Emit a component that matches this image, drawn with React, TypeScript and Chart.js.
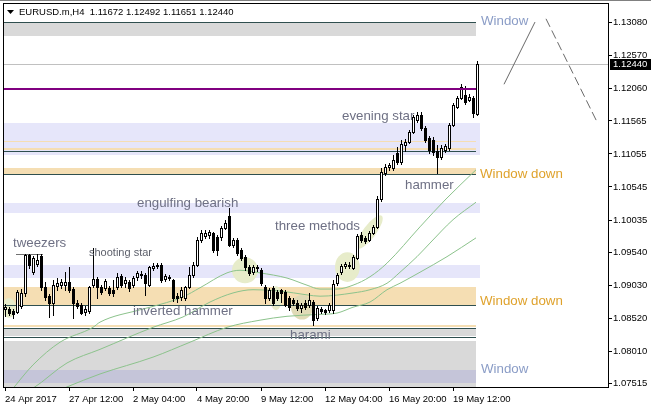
import React, { useEffect, useRef } from 'react';
import { Chart, registerables } from 'chart.js';

Chart.register(...registerables);

// ---------- data ----------
const SYMBOL = 'EURUSD.m,H4';

const OPEN = [
  1.0866, 1.0866, 1.0863, 1.0862, 1.0871, 1.0891, 1.0950, 1.0923, 1.0936, 1.0948,
  1.0900, 1.0886, 1.0875, 1.0902, 1.0903, 1.0903, 1.0908, 1.0897, 1.0875, 1.0872,
  1.0862, 1.0863, 1.0903, 1.0913, 1.0900, 1.0899, 1.0899, 1.0896, 1.0900, 1.0917,
  1.0906, 1.0908, 1.0903, 1.0916, 1.0920, 1.0919, 1.0903, 1.0930, 1.0933, 1.0934,
  1.0913, 1.0916, 1.0911, 1.0886, 1.0885, 1.0883, 1.0900, 1.0919, 1.0934, 1.0973,
  1.0979, 1.0980, 1.0983, 1.0977, 1.0977, 1.0991, 1.1010, 1.0965, 1.0973, 1.0957,
  1.0947, 1.0931, 1.0923, 1.0931, 1.0926, 1.0900, 1.0883, 1.0899, 1.0892, 1.0896,
  1.0892, 1.0883, 1.0880, 1.0875, 1.0868, 1.0875, 1.0872, 1.0877, 1.0852, 1.0866,
  1.0865, 1.0865, 1.0865, 1.0906, 1.0923, 1.0933, 1.0934, 1.0930, 1.0945, 1.0980,
  1.0976, 1.0973, 1.0983, 1.0993, 1.1036, 1.1076, 1.1085, 1.1084, 1.1107, 1.1093,
  1.1119, 1.1124, 1.1139, 1.1158, 1.1166, 1.1145, 1.1130, 1.1127, 1.1110, 1.1101,
  1.1112, 1.1115, 1.1150, 1.1178, 1.1192, 1.1196, 1.1189, 1.1192, 1.11672,
];
const HIGH = [
  1.0874, 1.0869, 1.0866, 1.0896, 1.0897, 1.0951, 1.0951, 1.0948, 1.0951, 1.0951,
  1.0908, 1.0889, 1.0911, 1.0914, 1.0913, 1.0923, 1.0931, 1.0900, 1.0880, 1.0875,
  1.0871, 1.0902, 1.0960, 1.0916, 1.0903, 1.0913, 1.0902, 1.0911, 1.0922, 1.0920,
  1.0916, 1.0911, 1.0917, 1.0925, 1.0925, 1.0922, 1.0933, 1.0937, 1.0937, 1.0937,
  1.0920, 1.0919, 1.0913, 1.0891, 1.0900, 1.0902, 1.0931, 1.0939, 1.0977, 1.0988,
  1.0988, 1.0988, 1.0985, 1.0980, 1.0994, 1.1004, 1.1022, 1.0976, 1.0976, 1.0960,
  1.0950, 1.0934, 1.0934, 1.0934, 1.0930, 1.0903, 1.0899, 1.0902, 1.0896, 1.0897,
  1.0896, 1.0886, 1.0883, 1.0880, 1.0875, 1.0880, 1.0891, 1.0880, 1.0871, 1.0869,
  1.0866, 1.0875, 1.0911, 1.0922, 1.0936, 1.0939, 1.0939, 1.0950, 1.0982, 1.0985,
  1.0979, 1.0987, 1.0996, 1.1040, 1.1084, 1.1090, 1.1091, 1.1104, 1.1116, 1.1127,
  1.1129, 1.1142, 1.1166, 1.1170, 1.1170, 1.1149, 1.1133, 1.1132, 1.1119, 1.1119,
  1.1121, 1.1153, 1.1184, 1.1195, 1.1213, 1.1210, 1.1198, 1.1195, 1.12492,
];
const LOW = [
  1.0855, 1.0857, 1.0852, 1.0860, 1.0868, 1.0886, 1.0930, 1.0920, 1.0933, 1.0896,
  1.0880, 1.0854, 1.0857, 1.0896, 1.0899, 1.0896, 1.0892, 1.0852, 1.0868, 1.0858,
  1.0857, 1.0860, 1.0900, 1.0883, 1.0889, 1.0896, 1.0888, 1.0886, 1.0897, 1.0900,
  1.0900, 1.0894, 1.0900, 1.0911, 1.0914, 1.0888, 1.0902, 1.0926, 1.0930, 1.0908,
  1.0909, 1.0911, 1.0879, 1.0877, 1.0880, 1.0880, 1.0899, 1.0916, 1.0933, 1.0970,
  1.0976, 1.0976, 1.0954, 1.0950, 1.0973, 1.0990, 1.0963, 1.0962, 1.0950, 1.0942,
  1.0926, 1.0919, 1.0920, 1.0925, 1.0903, 1.0875, 1.0880, 1.0872, 1.0880, 1.0877,
  1.0871, 1.0865, 1.0872, 1.0865, 1.0862, 1.0866, 1.0869, 1.0842, 1.0849, 1.0860,
  1.0858, 1.0862, 1.0860, 1.0903, 1.0920, 1.0930, 1.0930, 1.0928, 1.0943, 1.0970,
  1.0968, 1.0971, 1.0982, 1.0991, 1.1033, 1.1073, 1.1081, 1.1081, 1.1090, 1.1090,
  1.1110, 1.1122, 1.1138, 1.1155, 1.1142, 1.1124, 1.1107, 1.1104, 1.1076, 1.1098,
  1.1108, 1.1112, 1.1149, 1.1176, 1.1190, 1.1183, 1.1187, 1.1162, 1.11651,
];
const CLOSE = [
  1.0869, 1.0860, 1.0858, 1.0892, 1.0891, 1.0950, 1.0934, 1.0945, 1.0942, 1.0900,
  1.0885, 1.0875, 1.0903, 1.0906, 1.0908, 1.0908, 1.0896, 1.0875, 1.0871, 1.0860,
  1.0866, 1.0900, 1.0913, 1.0900, 1.0892, 1.0909, 1.0891, 1.0891, 1.0916, 1.0903,
  1.0911, 1.0899, 1.0914, 1.0922, 1.0919, 1.0906, 1.0931, 1.0933, 1.0934, 1.0911,
  1.0917, 1.0914, 1.0883, 1.0883, 1.0896, 1.0900, 1.0919, 1.0934, 1.0973, 1.0983,
  1.0983, 1.0985, 1.0957, 1.0957, 1.0991, 1.0999, 1.0965, 1.0973, 1.0953, 1.0945,
  1.0931, 1.0922, 1.0931, 1.0930, 1.0906, 1.0883, 1.0896, 1.0875, 1.0883, 1.0891,
  1.0872, 1.0869, 1.0875, 1.0868, 1.0872, 1.0869, 1.0880, 1.0849, 1.0868, 1.0863,
  1.0862, 1.0872, 1.0905, 1.0919, 1.0933, 1.0936, 1.0933, 1.0947, 1.0979, 1.0973,
  1.0971, 1.0983, 1.0993, 1.1036, 1.1078, 1.1085, 1.1088, 1.1096, 1.1093, 1.1121,
  1.1124, 1.1139, 1.1162, 1.1166, 1.1145, 1.1127, 1.1112, 1.1108, 1.1101, 1.1115,
  1.1118, 1.1150, 1.1181, 1.1192, 1.1209, 1.1186, 1.1193, 1.1169, 1.12440,
];

// moving averages, read at selected bars: [bar index, price]
const MA_FAST = [
  [1.25, 1.0738], [7, 1.0780], [13.75, 1.0815], [22, 1.0838], [23.75, 1.0846], [33.75, 1.0865],
  [36.25, 1.0869], [44.5, 1.0885], [48.75, 1.0899], [55.5, 1.0922], [58.75, 1.0926], [63.75, 1.0922],
  [70.5, 1.0914], [75.5, 1.0903], [78.75, 1.0897], [83, 1.0897], [87, 1.0903], [91.25, 1.0916],
  [95.5, 1.0937], [103.75, 1.0993], [110.25, 1.1036], [117.75, 1.1081],
];
const MA_MID = [
  [5, 1.0738], [7, 1.0744], [15.5, 1.0783], [23.75, 1.0804], [37, 1.0838], [44.5, 1.0854],
  [51.25, 1.0877], [57, 1.0891], [62, 1.0896], [68.75, 1.0894], [75.5, 1.0888], [78.75, 1.0886],
  [87, 1.0891], [91.25, 1.0896], [95.5, 1.0906], [98.75, 1.0923], [103, 1.0947], [106.25, 1.0968],
  [112, 1.1004], [117.75, 1.1031],
];
const MA_SLOW = [
  [12.5, 1.0738], [15.5, 1.0746], [23.75, 1.0766], [37, 1.0792], [46.25, 1.0815], [55.5, 1.0838],
  [63.75, 1.0849], [70.5, 1.0855], [78.75, 1.0858], [83, 1.0860], [87, 1.0869], [91.25, 1.0877],
  [95.5, 1.0896], [98.75, 1.0906], [103.75, 1.0923], [110.5, 1.0947], [117.75, 1.0976],
];

const X_TICK_BARS = [0, 16, 32, 48, 64, 80, 96, 112];
const X_TICK_LABELS = [
  '24 Apr 2017', '27 Apr 12:00', '2 May 04:00', '4 May 20:00',
  '9 May 12:00', '12 May 04:00', '16 May 20:00', '19 May 12:00',
];
const Y_TICKS = [
  1.07515, 1.0801, 1.0852, 1.0903, 1.0954, 1.10035, 1.10545, 1.11055, 1.11565, 1.1206, 1.1257, 1.1308,
];
const Y_MIN = 1.07459;
const Y_MAX = 1.13384;
const X_MIN = -0.5;
const X_MAX = 150.75;

// zones: [top price, bottom price, end bar]
const GRAY_ZONES = [[1.13098, 1.12875, 117.75], [1.08354, 1.08245, 117.75], [1.08168, 1.0740, 117.75]];
const LAVENDER_ZONES = [[1.11532, 1.11038, 118.75], [1.10298, 1.10143, 118.75], [1.09341, 1.09141, 118.75]];
const MIXED_ZONES = [[1.07721, 1.0752, 117.75]];
const WHEAT_ZONES = [[1.11154, 1.11123, 117.75], [1.10838, 1.10753, 117.75], [1.09002, 1.08724, 117.75], [1.08415, 1.08384, 117.75]];
const WHEAT_LINES = [[1.11254, 117.75]];
const DARK_LINES = [[1.13098, 117.75], [1.11108, 117.75], [1.10753, 117.75], [1.08724, 117.75], [1.08375, 117.75], [1.08362, 117.75], [1.08238, 117.75]];
const PURPLE_LEVEL = [1.12061, 117.75];
const TWEEZERS_LEVEL = [1.0951, 2.75, 9.5];

// highlight ellipses: [bar, price, rx bars, ry price, rotation deg]
const ELLIPSES = [
  [1, 1.0868, 1.75, 0.00154, 0],
  [60, 1.0926, 3.25, 0.0020, 0],
  [67.75, 1.0883, 1.5, 0.00185, 0],
  [85.6, 1.0931, 3.1, 0.0023, 0],
  [91.1, 1.0985, 5.1, 0.0010, -53],
];
const TAN_ELLIPSES = [[74.25, 1.0869, 2.75, 0.0019, 0]];

// forecast lines: [bar0, price0, bar1, price1]
const FORECAST_SOLID = [124.75, 1.1213, 132.5, 1.1309];
const FORECAST_DASHED = [135.25, 1.1314, 148, 1.1155];

// text objects: [text, bar, price]
const WINDOW_LABELS = [['Window', 119, 1.13106], ['Window', 119, 1.07736]];
const WINDOW_DOWN_LABELS = [['Window down', 118.75, 1.10745], ['Window down', 118.75, 1.08786]];
const PATTERN_LABELS = [
  ['tweezers', 2, 1.09681],
  ['engulfing bearish', 33, 1.10298],
  ['three methods', 67.5, 1.09943],
  ['evening star', 84.25, 1.1164],
  ['hammer', 100, 1.10576],
  ['inverted hammer', 32, 1.08631],
  ['harami', 71.25, 1.08261],
];
const SMALL_LABELS = [['shooting star', 21, 1.09526]];

const AXIS_FONT = 'Liberation Sans';

export default function App() {
  const ref = useRef<HTMLCanvasElement>(null);

  useEffect(() => {
    const canvas = ref.current;
    if (!canvas) return;

    const mt4 = {
      id: 'mt4',
      beforeDraw(chart: any) {
        const ctx = chart.ctx;
        ctx.save();
        ctx.fillStyle = '#ffffff';
        ctx.fillRect(0, 0, chart.width, chart.height);
        ctx.restore();
      },
      beforeDatasetsDraw(chart: any) {
        const { ctx, chartArea: a } = chart;
        const xs = chart.scales.x;
        const ys = chart.scales.y;
        const X = (v: number) => xs.getPixelForValue(v);
        const Y = (v: number) => Math.round(ys.getPixelForValue(v));
        ctx.save();
        ctx.beginPath();
        ctx.rect(a.left, a.top, a.right - a.left, a.bottom - a.top);
        ctx.clip();
        const band = (z: number[], color: string) => {
          const y0 = Y(z[0]);
          const y1 = Y(z[1]);
          ctx.fillStyle = color;
          ctx.fillRect(a.left, y0, Math.round(X(z[2])) - a.left, Math.max(1, y1 - y0));
        };
        GRAY_ZONES.forEach((z) => band(z, '#d9d9d9'));
        MIXED_ZONES.forEach((z) => band(z, '#c5c5d9'));
        LAVENDER_ZONES.forEach((z) => band(z, '#e6e6fa'));
        WHEAT_ZONES.forEach((z) => band(z, '#f5deb3'));
        const hline = (p: number, end: number, color: string, w: number) => {
          ctx.fillStyle = color;
          ctx.fillRect(a.left, Y(p), Math.round(X(end)) - a.left, w);
        };
        WHEAT_LINES.forEach((l) => hline(l[0], l[1], '#f5deb3', 1));
        // highlight ellipses
        const ell = (e: number[], color: string) => {
          const cx = X(e[0]);
          const cy = ys.getPixelForValue(e[1]);
          const rx = Math.abs(X(e[0] + e[2]) - cx);
          const ry = Math.abs(ys.getPixelForValue(e[1] + e[3]) - cy);
          ctx.fillStyle = color;
          ctx.beginPath();
          ctx.ellipse(cx, cy, rx, ry, (e[4] * Math.PI) / 180, 0, Math.PI * 2);
          ctx.fill();
        };
        ELLIPSES.forEach((e) => ell(e, '#e7ecca'));
        TAN_ELLIPSES.forEach((e) => ell(e, '#e0dab6'));
        DARK_LINES.forEach((l) => hline(l[0], l[1], '#2f4f4f', 1));
        // current price line
        ctx.fillStyle = '#c0c0c0';
        ctx.fillRect(a.left, Y(CLOSE[CLOSE.length - 1]), a.right - a.left, 1);
        // tweezers level
        ctx.fillStyle = '#707070';
        const tx0 = Math.round(X(TWEEZERS_LEVEL[1]));
        ctx.fillRect(tx0, Y(TWEEZERS_LEVEL[0]), Math.round(X(TWEEZERS_LEVEL[2])) - tx0, 1);
        ctx.restore();
      },
      afterDatasetsDraw(chart: any) {
        const { ctx, chartArea: a } = chart;
        const xs = chart.scales.x;
        const ys = chart.scales.y;
        const X = (v: number) => xs.getPixelForValue(v);
        const Y = (v: number) => Math.round(ys.getPixelForValue(v));
        ctx.save();
        ctx.beginPath();
        ctx.rect(a.left, a.top, a.right - a.left, a.bottom - a.top);
        ctx.clip();
        // candles
        for (let i = 0; i < OPEN.length; i++) {
          const cx = Math.round(X(i));
          const yo = Y(OPEN[i]);
          const yc = Y(CLOSE[i]);
          const yh = Y(HIGH[i]);
          const yl = Y(LOW[i]);
          ctx.fillStyle = '#000000';
          ctx.fillRect(cx, yh, 1, yl - yh + 1);
          const top = Math.min(yo, yc);
          const h = Math.abs(yo - yc) + 1;
          ctx.fillRect(cx - 1, top, 3, h);
          if (CLOSE[i] > OPEN[i] && h > 2) {
            ctx.fillStyle = '#ffffff';
            ctx.fillRect(cx, top + 1, 1, h - 2);
          }
        }
        // purple level
        ctx.fillStyle = '#800080';
        ctx.fillRect(a.left, Y(PURPLE_LEVEL[0]) - 1, Math.round(X(PURPLE_LEVEL[1])) - a.left, 2);
        // forecast lines
        ctx.strokeStyle = '#6a6a6a';
        ctx.lineWidth = 1;
        ctx.beginPath();
        ctx.moveTo(X(FORECAST_SOLID[0]), ys.getPixelForValue(FORECAST_SOLID[1]));
        ctx.lineTo(X(FORECAST_SOLID[2]), ys.getPixelForValue(FORECAST_SOLID[3]));
        ctx.stroke();
        ctx.setLineDash([9, 4]);
        ctx.beginPath();
        ctx.moveTo(X(FORECAST_DASHED[0]), ys.getPixelForValue(FORECAST_DASHED[1]));
        ctx.lineTo(X(FORECAST_DASHED[2]), ys.getPixelForValue(FORECAST_DASHED[3]));
        ctx.stroke();
        ctx.setLineDash([]);
        // text objects
        ctx.textBaseline = 'middle';
        ctx.textAlign = 'left';
        const txt = (l: any[], color: string, size: number) => {
          ctx.fillStyle = color;
          ctx.font = `${size}px "Liberation Sans", Arial, sans-serif`;
          ctx.fillText(l[0], Math.round(X(l[1])), ys.getPixelForValue(l[2]));
        };
        WINDOW_LABELS.forEach((l) => txt(l, '#8a9cc6', 13.3));
        WINDOW_DOWN_LABELS.forEach((l) => txt(l, '#dfa22c', 13.3));
        PATTERN_LABELS.forEach((l) => txt(l, '#6e7084', 13.3));
        SMALL_LABELS.forEach((l) => txt(l, '#5c5f6a', 11));
        ctx.restore();
      },
      afterDraw(chart: any) {
        const { ctx, chartArea: a } = chart;
        const ys = chart.scales.y;
        ctx.save();
        // window top line
        ctx.fillStyle = '#808080';
        ctx.fillRect(0, 0, chart.width, 1);
        // frame
        ctx.strokeStyle = '#000000';
        ctx.lineWidth = 1;
        ctx.strokeRect(a.left + 0.5, a.top + 0.5, a.right - a.left, a.bottom - a.top);
        // title
        const n = CLOSE.length - 1;
        ctx.fillStyle = '#000000';
        ctx.beginPath();
        ctx.moveTo(a.left + 4, a.top + 7);
        ctx.lineTo(a.left + 11, a.top + 7);
        ctx.lineTo(a.left + 7.5, a.top + 11);
        ctx.closePath();
        ctx.fill();
        ctx.font = `9.5px "${AXIS_FONT}", Arial, sans-serif`;
        ctx.textBaseline = 'middle';
        ctx.textAlign = 'left';
        const title = `${SYMBOL}  ${OPEN[n].toFixed(5)} ${HIGH[n].toFixed(5)} ${LOW[n].toFixed(5)} ${CLOSE[n].toFixed(5)}`;
        ctx.fillText(title, a.left + 16, a.top + 9);
        // price box
        const py = Math.round(ys.getPixelForValue(CLOSE[n]));
        ctx.fillStyle = '#000000';
        ctx.fillRect(a.right + 2, py - 5, chart.width - a.right - 2, 11);
        ctx.fillStyle = '#ffffff';
        ctx.fillText(CLOSE[n].toFixed(5), a.right + 5, py + 0.5);
        ctx.restore();
      },
    };

    const lineDs = (pts: number[][]) => ({
      data: pts.map((p) => ({ x: p[0], y: p[1] })),
      borderColor: '#8cc38c',
      borderWidth: 1,
      pointRadius: 0,
      fill: false,
      cubicInterpolationMode: 'monotone' as const,
    });

    const chart = new Chart(canvas, {
      type: 'line',
      data: { datasets: [lineDs(MA_FAST), lineDs(MA_MID), lineDs(MA_SLOW)] },
      plugins: [mt4],
      options: {
        animation: false,
        responsive: false,
        devicePixelRatio: 1,
        events: [],
        layout: { padding: { left: 3, top: 3, right: 0, bottom: 0 } },
        plugins: { legend: { display: false }, tooltip: { enabled: false } },
        scales: {
          x: {
            type: 'linear',
            position: 'bottom',
            min: X_MIN,
            max: X_MAX,
            bounds: 'data',
            grid: { drawOnChartArea: false, drawTicks: true, tickLength: 4, color: '#000000' },
            border: { display: false },
            ticks: {
              autoSkip: false,
              maxRotation: 0,
              minRotation: 0,
              align: 'start',
              padding: 3,
              color: '#000000',
              font: { family: AXIS_FONT, size: 9.5 },
              callback: (_v: any, idx: number) => X_TICK_LABELS[idx],
            },
            afterBuildTicks: (s: any) => {
              s.ticks = X_TICK_BARS.map((v) => ({ value: v }));
            },
            afterFit: (s: any) => {
              s.height = 21;
              s.paddingLeft = 0;
              s.paddingRight = 0;
            },
          },
          y: {
            type: 'linear',
            position: 'right',
            min: Y_MIN,
            max: Y_MAX,
            bounds: 'data',
            grid: { drawOnChartArea: false, drawTicks: true, tickLength: 4, color: '#000000' },
            border: { display: false },
            ticks: {
              autoSkip: false,
              padding: 1,
              color: '#000000',
              font: { family: AXIS_FONT, size: 9.5 },
              callback: (v: any) => Number(v).toFixed(5),
            },
            afterBuildTicks: (s: any) => {
              s.ticks = Y_TICKS.map((v) => ({ value: v }));
            },
            afterFit: (s: any) => {
              s.width = 43;
              s.paddingTop = 0;
              s.paddingBottom = 0;
            },
          },
        },
      },
    } as any);

    return () => chart.destroy();
  }, []);

  return (
    <div style={{ position: 'fixed', left: 0, top: 0, width: 651, height: 408, background: '#ffffff' }}>
      <canvas ref={ref} width={651} height={408} style={{ display: 'block', width: 651, height: 408 }} />
    </div>
  );
}
